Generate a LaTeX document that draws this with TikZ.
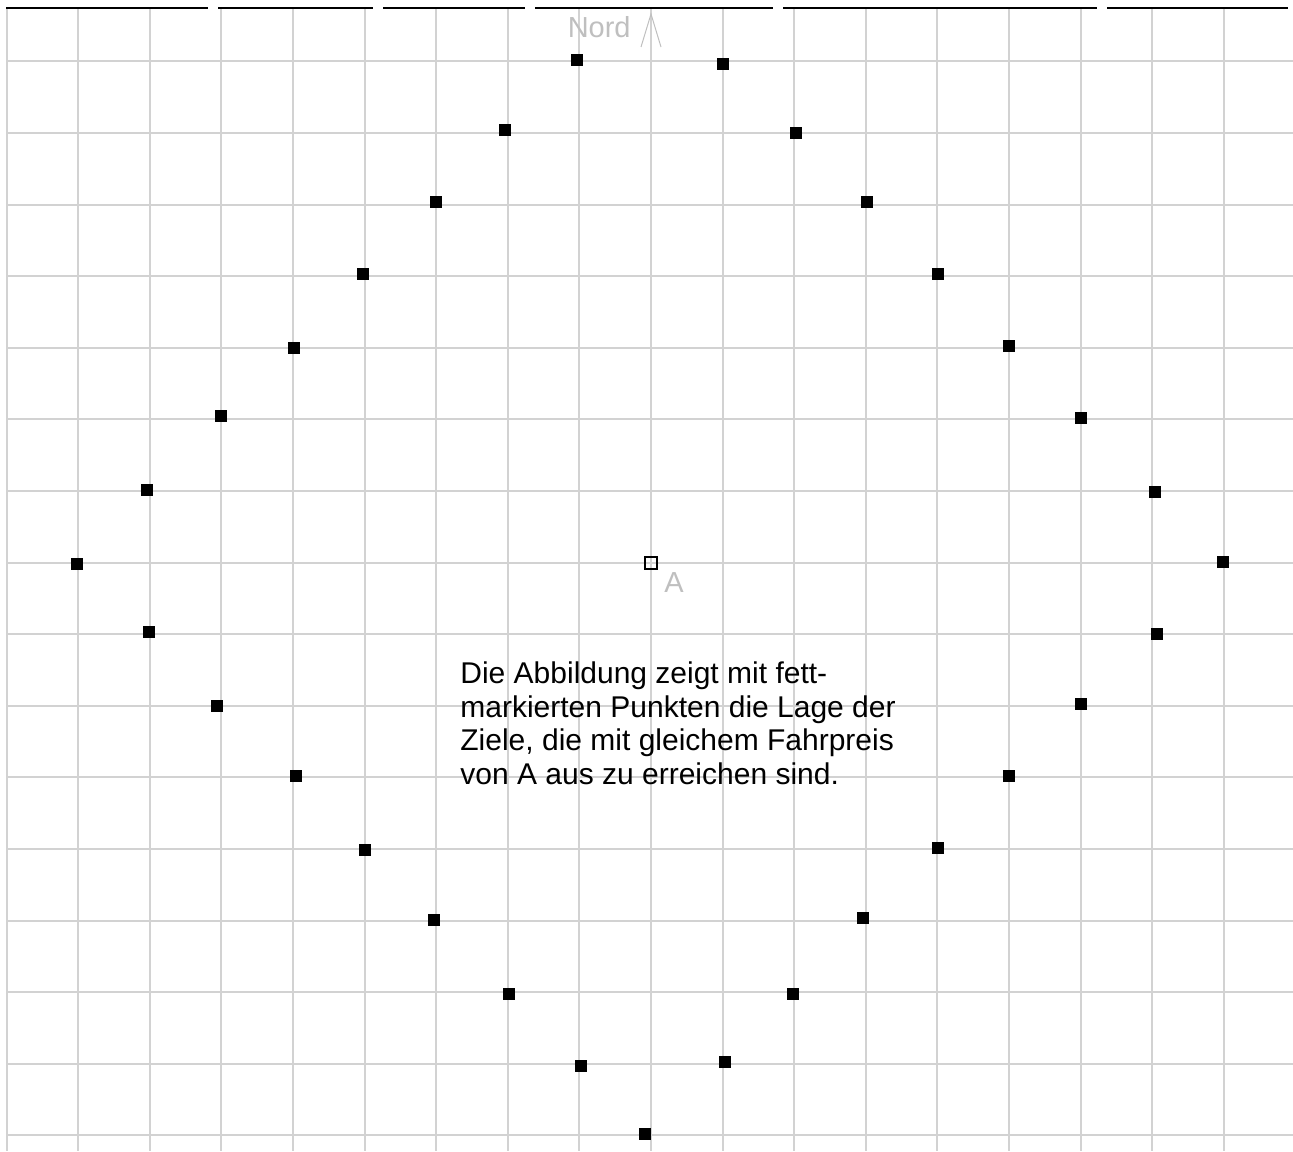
\documentclass[tikz,border=0pt]{standalone}
\usepackage{fontspec}
\setmainfont{Liberation Sans}
\begin{document}
\begin{tikzpicture}[x=0.5pt,y=-0.5pt,
    gridline/.style={gray!35,line width=1pt},
    target/.style={fill=black,draw=none,minimum size=6pt,inner sep=0pt},
    startbox/.style={draw=black,line width=0.7pt,minimum size=6pt,inner sep=0pt},
    graytext/.style={text=gray!50,font=\fontsize{14.5}{16}\selectfont,inner sep=0pt}]
        \useasboundingbox (0,0) rectangle (1293,1151);

        % Grid
        \foreach \i in {0,...,17}
            \draw[gridline] (6.6+71.6*\i,9) -- (6.6+71.6*\i,1151);
        \foreach \j in {-7,...,8}
            \draw[gridline] (7,562.5+71.6*\j) -- (1293,562.5+71.6*\j);

        % Top border
        \foreach \a/\b in {6/208,218/373,383/525,535/773,783/1097,1107/1288}
            \draw[black,line width=1.2pt] (\a,8) -- (\b,8);

        % North arrow
        \node[graytext,anchor=base east] (nord) at (631,37) {Nord};
        \draw[gray!50,line width=0.5pt] (641,47) -- (651,14) -- (661,47);

        % Start point A
        \node[startbox] (A) at (651,563) {};
        \node[graytext,anchor=base west] (Alabel) at (664,592) {A};

        % Targets with equal fare
        \foreach \x/\y [count=\k] in {577/60,723/64,505/130,796/133,436/202,867/202,
            363/274,938/274,294/348,1009/346,221/416,1081/418,147/490,1155/492,
            77/564,1223/562,149/632,1157/634,217/706,1081/704,296/776,1009/776,
            365/850,938/848,434/920,863/918,509/994,793/994,581/1066,725/1062,645/1134}
            \node[target] (p\k) at (\x,\y) {};

        % Caption (anchored at the baseline of its last line)
        \node[anchor=base west,align=left,inner sep=0pt,
            font=\fontsize{15}{16.75}\selectfont] (caption) at (460,784)
            {Die Abbildung zeigt mit fett-\\markierten Punkten die Lage der\\
             Ziele, die mit gleichem Fahrpreis\\von A aus zu erreichen sind.};
    \end{tikzpicture}
\end{document}
